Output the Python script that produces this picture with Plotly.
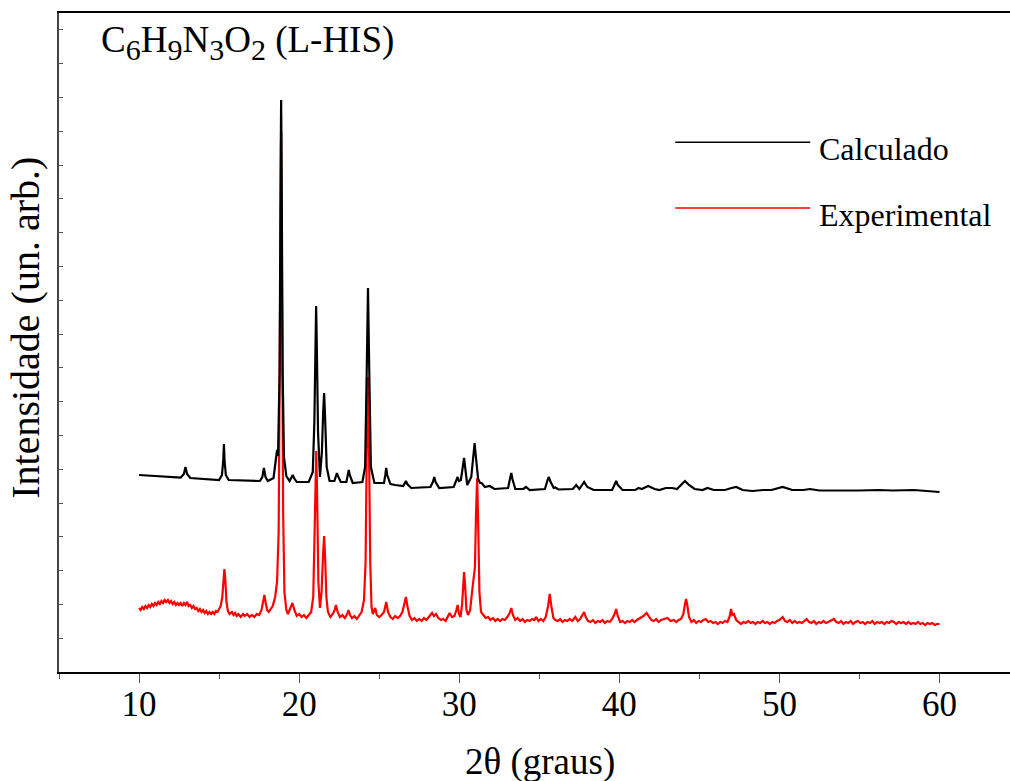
import plotly.graph_objects as go

# 2theta (deg), intensity (arb. units)
calc_points = [
    (10.0, 197), (12.6, 194.5), (12.8, 198), (12.9, 205), (13.0, 198), (13.2, 194),
    (15.0, 192), (15.18, 197), (15.26, 212), (15.3, 228), (15.34, 212), (15.42, 197), (15.6, 192),
    (17.55, 191), (17.7, 195), (17.8, 204), (17.9, 195), (18.05, 191),
    (18.4, 194), (18.55, 210), (18.62, 222), (18.68, 216), (18.78, 300), (18.85, 520),
    (18.875, 572), (18.9, 520), (18.97, 300), (19.05, 215), (19.2, 196), (19.4, 191),
    (19.52, 194), (19.6, 197), (19.68, 194), (19.85, 190), (20.6, 190),
    (20.85, 200), (20.95, 250), (21.02, 330), (21.06, 366), (21.1, 330), (21.18, 240),
    (21.3, 195), (21.42, 220), (21.5, 260), (21.56, 279), (21.62, 255), (21.72, 205),
    (21.9, 191), (22.2, 191), (22.3, 196), (22.36, 199), (22.42, 196), (22.6, 190),
    (22.95, 190), (23.05, 197), (23.1, 202), (23.16, 197), (23.35, 189), (23.95, 190),
    (24.12, 205), (24.22, 300), (24.3, 384), (24.38, 300), (24.48, 205), (24.7, 189),
    (25.3, 189), (25.38, 197), (25.44, 204), (25.5, 197), (25.7, 188), (26.0, 187),
    (26.5, 186), (26.6, 189), (26.67, 191), (26.75, 188), (27.0, 184),
    (28.2, 185), (28.35, 190), (28.44, 195), (28.52, 190), (28.75, 184),
    (29.65, 185), (29.8, 191), (29.9, 195), (29.98, 191), (30.1, 192), (30.22, 205),
    (30.3, 214), (30.38, 203), (30.5, 187), (30.75, 195), (30.88, 220), (30.96, 229),
    (31.04, 215), (31.18, 193), (31.3, 189), (31.4, 189), (31.6, 185), (31.9, 186),
    (32.2, 183), (33.05, 184), (33.18, 194), (33.25, 199), (33.32, 193), (33.5, 183),
    (34.0, 183), (34.17, 185), (34.4, 182), (35.35, 183), (35.52, 192), (35.6, 195),
    (35.68, 191), (35.9, 184), (36.0, 184.5), (36.2, 182.5), (37.1, 183), (37.3, 187),
    (37.5, 183), (37.8, 190), (38.0, 185), (38.4, 182), (39.55, 182), (39.72, 188),
    (39.8, 191), (39.9, 187), (40.2, 182), (41.0, 182), (41.2, 184), (41.4, 183),
    (41.8, 186), (42.2, 183), (42.5, 182), (42.9, 184), (43.3, 184), (43.6, 183),
    (43.85, 187), (44.1, 191), (44.35, 187), (44.7, 183), (45.2, 182), (45.5, 184),
    (45.9, 182), (46.6, 182), (47.0, 184), (47.3, 185), (47.7, 182), (48.3, 181),
    (49.0, 182), (49.5, 182), (50.2, 185), (50.8, 182), (51.5, 182), (51.9, 183),
    (52.5, 181.5), (53.6, 182), (54.0, 181.5), (55.0, 181.5), (56.2, 182), (57.1, 181.5),
    (58.4, 182), (59.2, 181), (60.0, 180),
]

exp_points = [
    (10.0, 64), (10.1, 62), (10.2, 65), (10.3, 63), (10.4, 66), (10.5, 64), (10.6, 67),
    (10.7, 65), (10.8, 68), (10.9, 66), (11.0, 69), (11.1, 67), (11.2, 70), (11.3, 68),
    (11.4, 71), (11.5, 69), (11.6, 72), (11.7, 70), (11.8, 72), (11.9, 69), (12.0, 71),
    (12.1, 68), (12.2, 70), (12.3, 67), (12.4, 69), (12.5, 67), (12.6, 69), (12.7, 66),
    (12.8, 69), (12.9, 67), (13.0, 70), (13.1, 66), (13.2, 67), (13.3, 64), (13.4, 66),
    (13.5, 63), (13.6, 64), (13.7, 61), (13.8, 63), (13.9, 60), (14.0, 62), (14.1, 59),
    (14.2, 61), (14.3, 58), (14.4, 60), (14.5, 58), (14.6, 60), (14.7, 58), (14.8, 61),
    (14.9, 60), (15.0, 63), (15.1, 66), (15.2, 75), (15.27, 95), (15.33, 103), (15.39, 92),
    (15.46, 70), (15.55, 61), (15.65, 58), (15.8, 60), (15.9, 57), (16.0, 59), (16.1, 56),
    (16.2, 58), (16.35, 55), (16.5, 58), (16.6, 56), (16.75, 58), (16.9, 55), (17.05, 57),
    (17.2, 55), (17.35, 58), (17.5, 57), (17.65, 62), (17.75, 72), (17.83, 77), (17.9, 70),
    (18.0, 62), (18.1, 60), (18.2, 63), (18.35, 66), (18.5, 75), (18.62, 90), (18.72, 140),
    (18.8, 350), (18.875, 542), (18.93, 380), (19.0, 160), (19.08, 80), (19.2, 62),
    (19.3, 58), (19.45, 63), (19.58, 69), (19.7, 62), (19.85, 56), (20.0, 58), (20.15, 55),
    (20.3, 57), (20.45, 54), (20.6, 57), (20.75, 60), (20.88, 75), (20.97, 140), (21.03, 200),
    (21.07, 221), (21.12, 180), (21.2, 90), (21.3, 64), (21.4, 80), (21.5, 120), (21.56, 136),
    (21.62, 115), (21.7, 75), (21.8, 60), (21.95, 55), (22.1, 58), (22.22, 62), (22.3, 67),
    (22.4, 60), (22.55, 55), (22.7, 57), (22.85, 54), (23.0, 58), (23.08, 62), (23.18, 57),
    (23.3, 54), (23.45, 56), (23.6, 53), (23.75, 56), (23.9, 60), (24.05, 72), (24.15, 110),
    (24.22, 220), (24.3, 295), (24.36, 230), (24.44, 110), (24.52, 65), (24.6, 58),
    (24.75, 64), (24.85, 57), (25.0, 55), (25.15, 57), (25.3, 60), (25.44, 70), (25.55, 60),
    (25.7, 55), (25.85, 53), (26.0, 56), (26.15, 54), (26.3, 56), (26.45, 60), (26.58, 70),
    (26.67, 75), (26.76, 66), (26.9, 56), (27.05, 52), (27.2, 54), (27.35, 51), (27.5, 53),
    (27.65, 51), (27.8, 54), (27.95, 52), (28.1, 55), (28.22, 58), (28.3, 59), (28.42, 56),
    (28.55, 58), (28.7, 54), (28.85, 52), (29.0, 53), (29.15, 51), (29.3, 56), (29.4, 59),
    (29.55, 55), (29.7, 56), (29.82, 62), (29.9, 67), (29.98, 58), (30.08, 55), (30.18, 68),
    (30.25, 92), (30.3, 100), (30.36, 88), (30.45, 62), (30.55, 57), (30.68, 62), (30.8, 80),
    (30.9, 92), (30.98, 105), (31.05, 160), (31.12, 194), (31.18, 150), (31.26, 80),
    (31.36, 60), (31.5, 57), (31.65, 54), (31.8, 55), (31.95, 52), (32.1, 54), (32.25, 51),
    (32.4, 53), (32.55, 51), (32.7, 53), (32.85, 52), (33.0, 55), (33.15, 59), (33.25, 64),
    (33.35, 57), (33.5, 52), (33.65, 54), (33.8, 51), (33.95, 53), (34.1, 50), (34.25, 52),
    (34.4, 51), (34.55, 53), (34.7, 52), (34.8, 55), (34.95, 51), (35.1, 53), (35.25, 51),
    (35.4, 55), (35.55, 66), (35.65, 78), (35.75, 66), (35.88, 54), (36.0, 52), (36.15, 51),
    (36.3, 53), (36.45, 50), (36.6, 52), (36.75, 51), (36.9, 53), (37.05, 51), (37.25, 55),
    (37.4, 51), (37.55, 53), (37.7, 57), (37.8, 60), (37.9, 55), (38.05, 51), (38.2, 50),
    (38.35, 52), (38.5, 49), (38.65, 51), (38.8, 50), (38.95, 52), (39.1, 49), (39.25, 51),
    (39.4, 50), (39.55, 53), (39.7, 58), (39.8, 63), (39.9, 56), (40.05, 50), (40.2, 51),
    (40.35, 49), (40.5, 51), (40.65, 50), (40.8, 52), (40.95, 50), (41.1, 52), (41.3, 54),
    (41.5, 56), (41.7, 59), (41.85, 55), (42.0, 52), (42.15, 51), (42.3, 53), (42.45, 50),
    (42.6, 52), (42.8, 53), (43.0, 54), (43.2, 51), (43.4, 52), (43.55, 50), (43.7, 52),
    (43.85, 53), (44.0, 58), (44.1, 68), (44.17, 73), (44.25, 66), (44.35, 55), (44.5, 50),
    (44.65, 52), (44.8, 49), (44.95, 51), (45.1, 50), (45.25, 52), (45.4, 53), (45.55, 50),
    (45.7, 51), (45.85, 49), (46.0, 50), (46.15, 48), (46.3, 50), (46.45, 49), (46.6, 51),
    (46.75, 50), (46.88, 55), (46.98, 63), (47.05, 57), (47.15, 58), (47.3, 52), (47.45, 50),
    (47.6, 48), (47.75, 50), (47.9, 49), (48.05, 51), (48.2, 49), (48.35, 50), (48.5, 48),
    (48.65, 50), (48.8, 49), (48.95, 51), (49.1, 49), (49.25, 50), (49.4, 48), (49.55, 50),
    (49.7, 49), (49.85, 51), (50.0, 52), (50.2, 55), (50.35, 51), (50.5, 50), (50.65, 52),
    (50.8, 49), (50.95, 51), (51.1, 49), (51.25, 50), (51.4, 49), (51.55, 51), (51.7, 53),
    (51.85, 50), (52.0, 49), (52.15, 51), (52.3, 48), (52.45, 50), (52.6, 49), (52.75, 51),
    (52.9, 49), (53.05, 50), (53.2, 51), (53.4, 53), (53.55, 50), (53.7, 49), (53.85, 51),
    (54.0, 48), (54.15, 50), (54.3, 49), (54.45, 51), (54.6, 48), (54.75, 50), (54.9, 51),
    (55.05, 49), (55.2, 50), (55.35, 48), (55.5, 50), (55.65, 49), (55.8, 51), (55.95, 48),
    (56.1, 50), (56.25, 49), (56.4, 50), (56.55, 48), (56.7, 50), (56.85, 49), (57.0, 51),
    (57.15, 50), (57.3, 48), (57.45, 50), (57.6, 49), (57.75, 50), (57.9, 48), (58.05, 50),
    (58.2, 48), (58.35, 49), (58.5, 48), (58.65, 50), (58.8, 48), (58.95, 49), (59.1, 47),
    (59.25, 49), (59.4, 48), (59.55, 49), (59.7, 47), (59.85, 48), (60.0, 48),
]

series_names = ["Calculado", "Experimental"]
series_colors = ["#000000", "#ff0000"]
x_ticks = [10, 20, 30, 40, 50, 60]

FONT = "Liberation Serif, Times New Roman, serif"

calc_x, calc_y = zip(*calc_points)
exp_x, exp_y = zip(*exp_points)

fig = go.Figure()
fig.add_trace(go.Scatter(x=exp_x, y=exp_y, mode="lines", name=series_names[1],
                         line=dict(color=series_colors[1], width=2.2), showlegend=False))
fig.add_trace(go.Scatter(x=calc_x, y=calc_y, mode="lines", name=series_names[0],
                         line=dict(color=series_colors[0], width=2.2), showlegend=False))

# legend drawn manually (long line samples like the reference)
leg_y = [0.804, 0.704]
for i in range(2):
    fig.add_shape(type="line", xref="paper", yref="paper", x0=0.648, x1=0.790,
                  y0=leg_y[i], y1=leg_y[i], line=dict(color=series_colors[i], width=1.5))
    fig.add_annotation(xref="paper", yref="paper", x=0.797, y=leg_y[i] - 0.01,
                       text=series_names[i], showarrow=False, xanchor="left", yanchor="middle",
                       font=dict(family=FONT, size=32, color="black"))

sub = '<sub><span style="font-size:30px">{}</span></sub>'
title_text = ("C" + sub.format("6") + "H" + sub.format("9") + "N" + sub.format("3")
              + "O" + sub.format("2") + " (L-HIS)")
fig.add_annotation(xref="paper", yref="paper", x=0.042, y=0.955,
                   text=title_text,
                   showarrow=False, xanchor="left", yanchor="middle",
                   font=dict(family=FONT, size=37, color="black"))

fig.add_annotation(xref="paper", yref="paper", x=0.506, y=-0.137, text="2θ (graus)",
                   showarrow=False, xanchor="center", yanchor="middle",
                   font=dict(family=FONT, size=37, color="black"))
fig.add_annotation(xref="paper", yref="paper", x=-0.036, y=0.522, text="Intensidade (un. arb.)",
                   textangle=-90, showarrow=False, xanchor="center", yanchor="middle",
                   font=dict(family=FONT, size=40, color="black"))

fig.update_layout(
    width=1010, height=781,
    margin=dict(l=59, r=0, t=13, b=109),
    paper_bgcolor="white", plot_bgcolor="white",
    font=dict(family=FONT, color="black"),
    xaxis=dict(range=[5, 64.4], tickvals=x_ticks, ticks="outside", ticklen=9, tickwidth=1,
               tickcolor="#555", showgrid=False, zeroline=False, showline=True,
               linecolor="black", linewidth=1.5, mirror=True, ticklabelstandoff=-9,
               tickfont=dict(family=FONT, size=35, color="black"),
               minor=dict(dtick=5, tick0=0, ticks="outside", ticklen=5, tickcolor="#555")),
    yaxis=dict(range=[0, 659], tick0=0, dtick=33.8, ticks="inside", ticklen=4, tickwidth=1,
               tickcolor="#555", showticklabels=False, showgrid=False, zeroline=False,
               showline=True, linecolor="#444", linewidth=1.5),
)

fig.write_html("out.html")
